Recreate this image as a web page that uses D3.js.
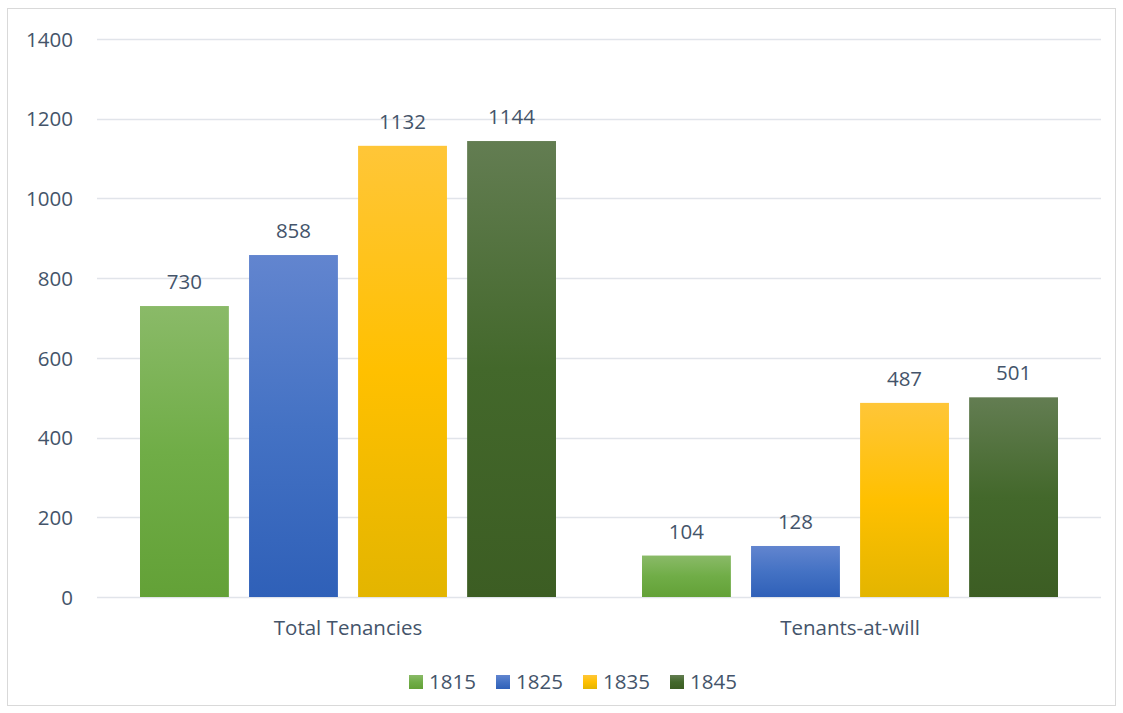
<!DOCTYPE html>
<html><head><meta charset="utf-8">
<script src="https://cdn.jsdelivr.net/npm/d3@7"></script>
<style>body{margin:0;background:#fff;} svg{display:block;}</style>
</head><body>
<svg id="chart" width="1123" height="713"></svg>
<script>
const categories = ["Total Tenancies", "Tenants-at-will"];
const seriesNames = ["1815", "1825", "1835", "1845"];
const values1815 = [730, 104];
const values1825 = [858, 128];
const values1835 = [1132, 487];
const values1845 = [1144, 501];
const yTicks = [0, 200, 400, 600, 800, 1000, 1200, 1400];

(function () {
const seriesValues = [values1815, values1825, values1835, values1845];
const gradStops = [
  ["#8aba68", "#70ad47", "#63a137"],
  ["#6285cf", "#4472c4", "#2f60b8"],
  ["#ffc638", "#ffc000", "#e3b500"],
  ["#637d52", "#43682b", "#3c5d23"]
];
const font = "'Open Sans', sans-serif";
const fs = 20.5;
const txt = "#44546A";

const svg = d3.select("#chart");
svg.append("rect").attr("x", 7.5).attr("y", 8.5).attr("width", 1108).attr("height", 697)
  .attr("fill", "#fff").attr("stroke", "#d9d9d9").attr("stroke-width", 1);

const defs = svg.append("defs");
gradStops.forEach((s, i) => {
  const g = defs.append("linearGradient").attr("id", "g" + i)
    .attr("x1", 0).attr("y1", 0).attr("x2", 0).attr("y2", 1);
  g.append("stop").attr("offset", "0%").attr("stop-color", s[0]);
  g.append("stop").attr("offset", "50%").attr("stop-color", s[1]);
  g.append("stop").attr("offset", "100%").attr("stop-color", s[2]);
});

const pLeft = 97, pRight = 1101, pTop = 39, pBottom = 597;
const x0 = d3.scaleBand().domain(categories).range([pLeft, pRight]).paddingInner(0).paddingOuter(0);
const x1 = d3.scaleBand().domain(seriesNames).range([43, x0.bandwidth() - 43]).paddingInner(0.185);
const y = d3.scaleLinear().domain([0, 1400]).range([pBottom, pTop]);

svg.append("g").selectAll("line").data(yTicks).join("line")
  .attr("x1", pLeft).attr("x2", pRight)
  .attr("y1", d => Math.round(y(d)) + 0.5).attr("y2", d => Math.round(y(d)) + 0.5)
  .attr("stroke", "#e1e4ea").attr("stroke-width", 1.3);

const yAxis = d3.axisLeft(y).tickValues(yTicks).tickFormat(d3.format("d")).tickSize(0).tickPadding(0);
const ya = svg.append("g").attr("transform", `translate(${73},0)`).call(yAxis);
ya.select(".domain").remove();
ya.selectAll("text").attr("font-family", font).attr("font-size", fs).attr("fill", txt)
  .attr("dy", "0.35em");

const groups = svg.append("g").selectAll("g").data(categories).join("g")
  .attr("transform", d => `translate(${x0(d)},0)`);
groups.each(function(cat, ci) {
  const g = d3.select(this);
  seriesNames.forEach((s, si) => {
    const v = seriesValues[si][ci];
    g.append("rect").attr("x", x1(s)).attr("width", x1.bandwidth())
      .attr("y", y(v)).attr("height", y(0) - y(v)).attr("fill", `url(#g${si})`);
    g.append("text").attr("x", x1(s) + x1.bandwidth() / 2).attr("y", y(v) - 17)
      .attr("text-anchor", "middle").attr("font-family", font).attr("font-size", fs)
      .attr("fill", txt).text(v);
  });
});

const xAxis = d3.axisBottom(x0).tickSize(0).tickPadding(0);
const xa = svg.append("g").attr("transform", `translate(0,${628})`).call(xAxis);
xa.select(".domain").remove();
xa.selectAll("text").attr("font-family", font).attr("font-size", fs).attr("fill", txt).attr("dy", "0.35em");

const legendX = [409, 496, 583, 670];
const lg = svg.append("g").selectAll("g").data(seriesNames).join("g")
  .attr("transform", (d, i) => `translate(${legendX[i]},${675})`);
lg.append("rect").attr("width", 14).attr("height", 14).attr("fill", (d, i) => `url(#g${i})`);
lg.append("text").attr("x", 20).attr("y", 7).attr("dy", "0.35em")
  .attr("font-family", font).attr("font-size", fs).attr("fill", txt).text(d => d);
})();
</script>
</body></html>
